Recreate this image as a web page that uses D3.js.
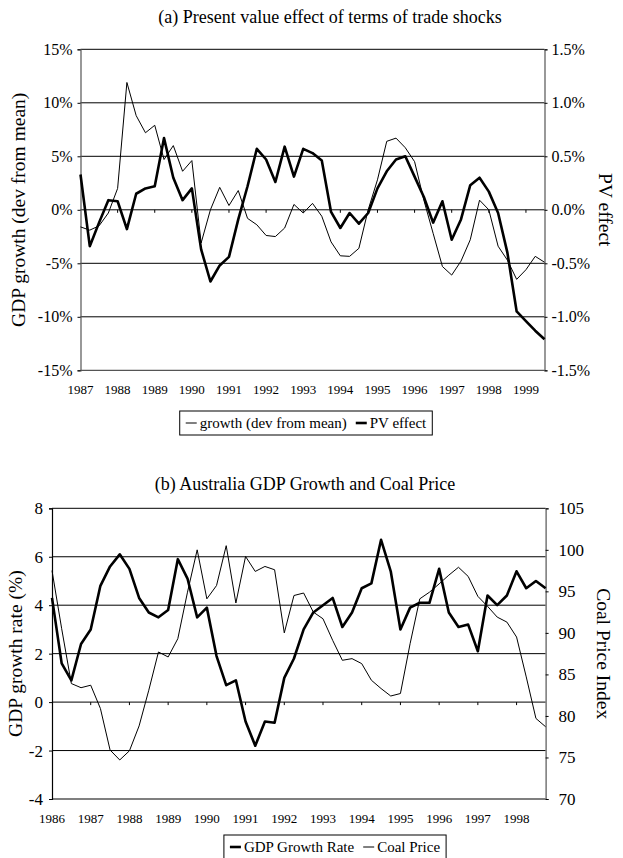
<!DOCTYPE html>
<html><head><meta charset="utf-8">
<script src="https://cdn.jsdelivr.net/npm/d3@7"></script>
<style>
body{margin:0;background:#fff;}
svg text{font-family:"Liberation Serif","Times New Roman",serif;fill:#000;}
</style></head>
<body><svg id="c" width="623" height="858"></svg>
<script>
// ---- Data: chart (a) quarterly 1987Q1..1999Q3 ----
const topYearLabels = ["1987","1988","1989","1990","1991","1992","1993","1994","1995","1996","1997","1998","1999"];
const growthDev = [-1.6,-1.9,-1.5,-0.3,2.0,11.9,8.8,7.2,7.9,4.7,6.0,3.6,4.6,-3.1,0.0,2.1,0.4,1.8,-0.8,-1.4,-2.4,-2.5,-1.7,0.5,-0.3,0.6,-0.6,-3.0,-4.3,-4.35,-3.6,0.0,2.8,6.4,6.7,5.8,4.5,0.9,-2.2,-5.3,-6.1,-4.8,-2.8,0.9,0.0,-3.4,-4.7,-6.5,-5.6,-4.35,-4.9];
const pvEffect = [0.33,-0.34,-0.12,0.09,0.08,-0.18,0.15,0.20,0.22,0.67,0.30,0.09,0.20,-0.37,-0.67,-0.52,-0.44,-0.09,0.22,0.57,0.47,0.26,0.59,0.31,0.57,0.53,0.46,-0.02,-0.17,-0.03,-0.13,-0.03,0.20,0.36,0.47,0.50,0.31,0.12,-0.12,0.08,-0.28,-0.09,0.23,0.30,0.17,-0.03,-0.40,-0.95,-1.04,-1.13,-1.21];
const topLeftTicks = [-15,-10,-5,0,5,10,15];
const topRightTicks = [-1.5,-1.0,-0.5,0.0,0.5,1.0,1.5];

// ---- Data: chart (b) quarterly 1986Q1..1998Q4 ----
const botYearLabels = ["1986","1987","1988","1989","1990","1991","1992","1993","1994","1995","1996","1997","1998"];
const gdpGrowth = [4.3,1.6,0.9,2.4,3.0,4.8,5.6,6.1,5.5,4.3,3.7,3.5,3.8,5.9,5.1,3.5,3.9,1.9,0.7,0.9,-0.8,-1.8,-0.8,-0.85,1.0,1.8,3.0,3.7,4.0,4.3,3.1,3.7,4.7,4.9,6.7,5.4,3.0,3.9,4.1,4.1,5.5,3.7,3.1,3.2,2.1,4.4,4.0,4.4,5.4,4.7,5.0,4.7];
const coalPrice = [97.5,90.5,83.9,83.4,83.7,80.9,75.9,74.7,75.8,78.8,83.1,87.7,87.1,89.3,94.9,100.0,94.1,95.7,100.5,93.6,99.2,97.4,98.0,97.6,90.0,94.5,94.8,92.5,91.7,89.1,86.7,86.9,86.3,84.3,83.3,82.4,82.7,88.7,94.1,94.9,95.9,96.95,97.9,96.8,94.4,93.2,91.9,91.3,89.5,84.7,79.7,78.7];
const botLeftTicks = [-4,-2,0,2,4,6,8];
const botRightTicks = [70,75,80,85,90,95,100,105];

const svg = d3.select("#c");
const AX = "#555";

function legend(g, cx, y, items, fs){
  const lg = g.append("g");
  let x = 0;
  items.forEach((it,i)=>{
    lg.append("line").attr("x1",x).attr("x2",x+11).attr("y1",0).attr("y2",0)
      .attr("stroke","#000").attr("stroke-width",it.w);
    const t = lg.append("text").attr("x",x+14).attr("y",0).attr("dy","0.33em")
      .style("font-size",fs+"px").text(it.label);
    x += 14 + t.node().getComputedTextLength() + 9;
  });
  const w = x - 9 + 12;
  lg.insert("rect",":first-child").attr("x",-6).attr("y",-12).attr("width",w).attr("height",24)
    .attr("fill","#fff").attr("stroke","#000").attr("stroke-width",1);
  lg.attr("transform",`translate(${cx - (w-12)/2},${y})`);
}

// ================= Chart (a) =================
{
  const L=80.5, R=544.5, T=49.3, B=370.3;
  const x = d3.scaleLinear().domain([0, growthDev.length-1]).range([L,R]);
  const yL = d3.scaleLinear().domain([-15,15]).range([B,T]);
  const yR = d3.scaleLinear().domain([-1.5,1.5]).range([B,T]);
  const g = svg.append("g");

  g.append("text").attr("x",330).attr("y",23).attr("text-anchor","middle").style("font-size","18px")
    .text("(a) Present value effect of terms of trade shocks");

  g.selectAll(".gl").data(topLeftTicks.filter(d=>d>-15)).enter().append("line")
    .attr("x1",L).attr("x2",R).attr("y1",d=>yL(d)).attr("y2",d=>yL(d)).attr("stroke","#000").attr("stroke-width",1);
  g.append("line").attr("x1",L).attr("x2",R).attr("y1",B).attr("y2",B).attr("stroke",AX).attr("stroke-width",1.2);
  const yt = d3.range(4, growthDev.length, 4);
  g.selectAll(".zt").data(yt).enter().append("line")
    .attr("x1",d=>x(d)).attr("x2",d=>x(d)).attr("y1",yL(0)).attr("y2",yL(0)+3).attr("stroke","#000");
  g.selectAll(".xl").data(topYearLabels).enter().append("text")
    .attr("x",(d,i)=>x(i*4)).attr("y",B+19).attr("dy","0.33em").attr("text-anchor","middle")
    .style("font-size","13px").text(d=>d);

  const la = g.append("g").attr("transform",`translate(${L},0)`)
    .call(d3.axisLeft(yL).tickValues(topLeftTicks).tickSize(3).tickPadding(5).tickFormat(d=>d+"%"));
  la.select(".domain").attr("stroke",AX).attr("stroke-width",1.2);
  la.selectAll(".tick line").attr("stroke","#000");
  la.selectAll("text").style("font-size","16px").style("font-family","Liberation Serif");

  const ra = g.append("g").attr("transform",`translate(${R},0)`)
    .call(d3.axisRight(yR).tickValues(topRightTicks).tickSize(3).tickPadding(4).tickFormat(d=>d.toFixed(1)+"%"));
  ra.select(".domain").attr("stroke",AX).attr("stroke-width",1.2);
  ra.selectAll(".tick line").attr("stroke","#000");
  ra.selectAll("text").style("font-size","16px").style("font-family","Liberation Serif");

  g.append("text").attr("transform",`translate(19,${(T+B)/2}) rotate(-90)`).attr("text-anchor","middle")
    .attr("dy","0.33em").style("font-size","19.5px").text("GDP growth (dev from mean)");
  g.append("text").attr("transform",`translate(605,${(T+B)/2}) rotate(90)`).attr("text-anchor","middle")
    .attr("dy","0.33em").style("font-size","19.5px").text("PV effect");

  g.append("path").datum(growthDev).attr("fill","none").attr("stroke","#000").attr("stroke-width",1)
    .attr("d", d3.line().x((d,i)=>x(i)).y(d=>yL(d)));
  g.append("path").datum(pvEffect).attr("fill","none").attr("stroke","#000").attr("stroke-width",2.6)
    .attr("stroke-linejoin","round").attr("d", d3.line().x((d,i)=>x(i)).y(d=>yR(d)));

  legend(g, 306, 423, [{label:"growth (dev from mean)", w:1},{label:"PV effect", w:2.6}], 15);
}

// ================= Chart (b) =================
{
  const L=52, R=545.6, T=508.3, B=799;
  const x = d3.scaleLinear().domain([0, gdpGrowth.length-1]).range([L,R]);
  const yL = d3.scaleLinear().domain([-4,8]).range([B,T]);
  const yR = d3.scaleLinear().domain([70,105]).range([B,T]);
  const g = svg.append("g");

  g.append("text").attr("x",305).attr("y",490).attr("text-anchor","middle").style("font-size","18px")
    .text("(b) Australia GDP Growth and Coal Price");

  g.selectAll(".gl").data(botLeftTicks.filter(d=>d>-4)).enter().append("line")
    .attr("x1",L).attr("x2",R).attr("y1",d=>yL(d)).attr("y2",d=>yL(d)).attr("stroke","#000").attr("stroke-width",1);
  g.append("line").attr("x1",L).attr("x2",R).attr("y1",B).attr("y2",B).attr("stroke","#000").attr("stroke-width",1.2);
  const yt = d3.range(4, gdpGrowth.length, 4);
  g.selectAll(".zt").data(yt).enter().append("line")
    .attr("x1",d=>x(d)).attr("x2",d=>x(d)).attr("y1",yL(0)).attr("y2",yL(0)+3).attr("stroke","#000");
  g.selectAll(".xl").data(botYearLabels).enter().append("text")
    .attr("x",(d,i)=>x(i*4)).attr("y",B+20).attr("dy","0.33em").attr("text-anchor","middle")
    .style("font-size","13px").text(d=>d);

  const la = g.append("g").attr("transform",`translate(${L},0)`)
    .call(d3.axisLeft(yL).tickValues(botLeftTicks).tickSize(3).tickPadding(6).tickFormat(d=>String(d)));
  la.select(".domain").attr("stroke","#000").attr("stroke-width",1.2);
  la.selectAll(".tick line").attr("stroke","#000");
  la.selectAll("text").style("font-size","17px").style("font-family","Liberation Serif");

  const ra = g.append("g").attr("transform",`translate(${R},0)`)
    .call(d3.axisRight(yR).tickValues(botRightTicks).tickSize(3).tickPadding(10).tickFormat(d=>String(d)));
  ra.select(".domain").attr("stroke",AX).attr("stroke-width",1.2);
  ra.selectAll(".tick line").attr("stroke","#000");
  ra.selectAll("text").style("font-size","17px").style("font-family","Liberation Serif");

  g.append("text").attr("transform",`translate(16,${(T+B)/2}) rotate(-90)`).attr("text-anchor","middle")
    .attr("dy","0.33em").style("font-size","19.5px").text("GDP growth rate (%)");
  g.append("text").attr("transform",`translate(603,${(T+B)/2}) rotate(90)`).attr("text-anchor","middle")
    .attr("dy","0.33em").style("font-size","19.5px").text("Coal Price Index");

  g.append("path").datum(coalPrice).attr("fill","none").attr("stroke","#000").attr("stroke-width",1)
    .attr("d", d3.line().x((d,i)=>x(i)).y(d=>yR(d)));
  g.append("path").datum(gdpGrowth).attr("fill","none").attr("stroke","#000").attr("stroke-width",2.6)
    .attr("stroke-linejoin","round").attr("d", d3.line().x((d,i)=>x(i)).y(d=>yL(d)));

  legend(g, 335, 847, [{label:"GDP Growth Rate", w:2.6},{label:"Coal Price", w:1}], 15);
}
</script></body></html>
